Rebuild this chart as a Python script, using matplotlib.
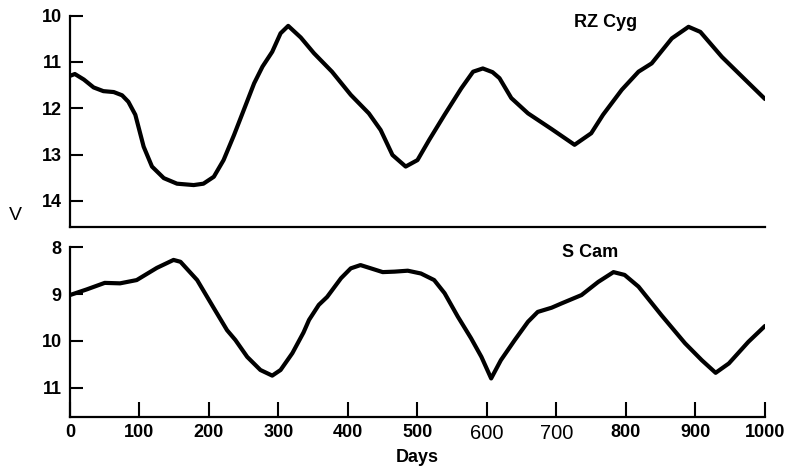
import matplotlib
matplotlib.use("Agg")
import matplotlib.pyplot as plt

plt.rcParams["font.family"] = ["Liberation Sans", "DejaVu Sans"]
plt.rcParams["font.weight"] = "bold"
plt.rcParams["axes.labelweight"] = "bold"

# RZ Cyg light curve (days, V magnitude)
rz_days = [0, 7, 20, 34, 48, 63, 75, 84, 94, 106, 118, 135, 154, 178, 192, 207,
           221, 236, 250, 265, 277, 291, 303, 314, 332, 351, 377, 404, 430, 447,
           464, 483, 500, 517, 539, 563, 580, 594, 608, 618, 635, 659, 693, 726,
           750, 767, 794, 818, 837, 866, 890, 907, 938, 972, 1000]
rz_mag = [11.30, 11.26, 11.38, 11.55, 11.63, 11.65, 11.72, 11.86, 12.14, 12.83,
          13.26, 13.51, 13.63, 13.66, 13.63, 13.48, 13.12, 12.58, 12.04, 11.46,
          11.10, 10.78, 10.38, 10.22, 10.47, 10.81, 11.21, 11.71, 12.11, 12.47,
          13.01, 13.26, 13.12, 12.68, 12.14, 11.57, 11.21, 11.14, 11.22, 11.35,
          11.78, 12.11, 12.45, 12.79, 12.54, 12.14, 11.60, 11.21, 11.03, 10.49,
          10.24, 10.35, 10.89, 11.39, 11.80]

# S Cam light curve (days, V magnitude)
scam_days = [0, 24, 50, 72, 96, 125, 149, 159, 183, 207, 226, 238, 255, 274, 291,
             303, 320, 336, 344, 358, 370, 390, 404, 418, 433, 450, 467, 486, 505,
             524, 539, 558, 577, 592, 606, 620, 640, 659, 673, 693, 707, 736, 760,
             782, 798, 818, 851, 885, 909, 929, 948, 976, 1000]
scam_mag = [9.02, 8.90, 8.76, 8.77, 8.70, 8.44, 8.27, 8.31, 8.70, 9.30, 9.77,
            9.98, 10.34, 10.62, 10.74, 10.62, 10.26, 9.82, 9.55, 9.23, 9.06, 8.66,
            8.45, 8.38, 8.45, 8.53, 8.52, 8.50, 8.56, 8.70, 8.98, 9.48, 9.94,
            10.34, 10.80, 10.41, 9.98, 9.59, 9.38, 9.29, 9.20, 9.02, 8.74, 8.53,
            8.59, 8.84, 9.45, 10.05, 10.41, 10.68, 10.48, 10.02, 9.68]

rz_ticks = [10, 11, 12, 13, 14]
scam_ticks = [8, 9, 10, 11]
day_ticks = list(range(0, 1001, 100))

fig = plt.figure(figsize=(7.88, 4.76), dpi=100)
ax_top = fig.add_axes([0.0888, 0.5237, 0.882, 0.4433])
ax_bot = fig.add_axes([0.0888, 0.1233, 0.882, 0.3572])

line_kw = dict(color="black", linewidth=3.0, solid_joinstyle="round",
               solid_capstyle="round")
ax_top.plot(rz_days, rz_mag, **line_kw)
ax_bot.plot(scam_days, scam_mag, **line_kw)

for ax in (ax_top, ax_bot):
    ax.set_xlim(0, 1000)
    ax.spines["top"].set_visible(False)
    ax.spines["right"].set_visible(False)
    ax.spines["left"].set_linewidth(1.6)
    ax.spines["bottom"].set_linewidth(1.6)
    ax.tick_params(axis="y", direction="in", length=9.5, width=1.5, pad=6,
                   labelsize=13)

ax_top.set_ylim(14.56, 10)
ax_top.set_yticks(rz_ticks)
ax_top.set_xticks([])

ax_bot.set_ylim(11.63, 8)
ax_bot.set_yticks(scam_ticks)
ax_bot.set_xticks(day_ticks)
ax_bot.tick_params(axis="x", direction="in", length=11, width=1.5, pad=5,
                   labelsize=13)

# two of the day labels are set in a wider, lighter face
for lbl in ax_bot.get_xticklabels():
    if lbl.get_text() in ("600", "700"):
        lbl.set_fontsize(14.5)
        lbl.set_fontweight("normal")

ax_top.text(0.77, 0.97, "RZ Cyg", transform=ax_top.transAxes, fontsize=13,
            ha="center", va="center")
ax_bot.text(0.748, 0.97, "S Cam", transform=ax_bot.transAxes, fontsize=13,
            ha="center", va="center")

fig.text(15 / 788, 1 - 215 / 476, "V", fontsize=14, fontweight="normal",
         ha="center", va="center")
ax_bot.set_xlabel("Days", fontsize=13, fontweight="bold", labelpad=4)

fig.savefig("out.png", dpi=100)
